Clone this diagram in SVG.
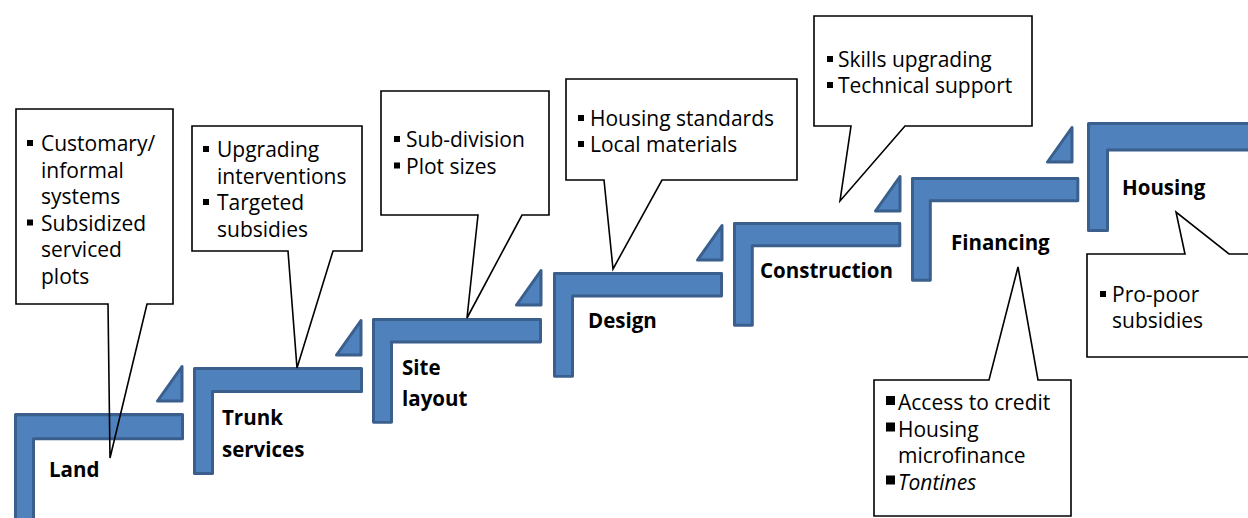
<svg xmlns="http://www.w3.org/2000/svg" xmlns:xlink="http://www.w3.org/1999/xlink" width="1248" height="518" viewBox="0 0 1248 518">
  <style>
    .step { fill: #4F81BD; stroke: #3A5F8C; stroke-width: 3; stroke-linejoin: round; }
    .call { fill: none; stroke: #000; stroke-width: 1.6; stroke-linejoin: miter; }
    .txt { font-family: "Open Sans", "Liberation Sans", sans-serif; font-size: 21px; fill: #000; }
    .lbl { font-family: "Open Sans", "Liberation Sans", sans-serif; font-size: 20.5px; font-weight: bold; fill: #000; }
    .it { font-style: italic; }
  </style>
  <defs>
    <!-- L-shaped stair step: top bar plus left riser -->
    <path id="L" d="M1.5,1.5 H168.5 V24.5 H19.5 V106.5 H1.5 Z"/>
    <!-- small right triangle leading to the next step -->
    <path id="tri" d="M26,1.5 V36 H1.5 Z"/>
    <rect id="b" width="6" height="6"/>
    <rect id="bb" width="9" height="9"/>
  </defs>
  <rect width="1248" height="518" fill="#fff"/>

  <g id="steps">
    <g id="step-land"><use xlink:href="#L" class="step" transform="translate(14,413) scale(1,1.05)"/></g>
    <use xlink:href="#tri" class="step" transform="translate(156,365)"/>
    <g id="step-trunk"><use xlink:href="#L" class="step" transform="translate(193,367)"/></g>
    <use xlink:href="#tri" class="step" transform="translate(335,319)"/>
    <g id="step-site"><use xlink:href="#L" class="step" transform="translate(372,318) scale(1,0.98)"/></g>
    <use xlink:href="#tri" class="step" transform="translate(515,269)"/>
    <g id="step-design"><use xlink:href="#L" class="step" transform="translate(553,272) scale(1,0.98)"/></g>
    <use xlink:href="#tri" class="step" transform="translate(696,224)"/>
    <g id="step-construction"><use xlink:href="#L" class="step" transform="translate(733,222) scale(0.99,0.97)"/></g>
    <use xlink:href="#tri" class="step" transform="translate(874,175)"/>
    <g id="step-financing"><use xlink:href="#L" class="step" transform="translate(911,177) scale(0.99,0.97)"/></g>
    <use xlink:href="#tri" class="step" transform="translate(1046,126)"/>
    <g id="step-housing"><path class="step" d="M1088.5,123.5 H1252 V150 H1107.5 V230.5 H1088.5 Z"/></g>
  </g>

  <g id="labels">
    <text class="lbl" x="49" y="477">Land</text>
    <text class="lbl" x="222" y="425">Trunk</text>
    <text class="lbl" x="222" y="457">services</text>
    <text class="lbl" x="402" y="375">Site</text>
    <text class="lbl" x="402" y="406">layout</text>
    <text class="lbl" x="588" y="328">Design</text>
    <text class="lbl" x="760" y="278">Construction</text>
    <text class="lbl" x="951" y="250">Financing</text>
    <text class="lbl" x="1122" y="195">Housing</text>
  </g>

  <g id="callouts">
    <g id="note-land">
      <path class="call" d="M16,109 H173 V304 H147 L110,458 L108,304 H16 Z"/>
      <use xlink:href="#b" x="27" y="140"/>
      <use xlink:href="#b" x="27" y="219.5"/>
      <text class="txt" x="41" y="151">Customary/</text>
      <text class="txt" x="41" y="177.5">informal</text>
      <text class="txt" x="41" y="204">systems</text>
      <text class="txt" x="41" y="230.5">Subsidized</text>
      <text class="txt" x="41" y="257">serviced</text>
      <text class="txt" x="41" y="283.5">plots</text>
    </g>
    <g id="note-trunk">
      <path class="call" d="M192,126 H362 V251 H333 L297,368 L288,251 H192 Z"/>
      <use xlink:href="#b" x="203" y="146"/>
      <use xlink:href="#b" x="203" y="199"/>
      <text class="txt" x="217" y="157">Upgrading</text>
      <text class="txt" x="217" y="183.5">interventions</text>
      <text class="txt" x="217" y="210">Targeted</text>
      <text class="txt" x="217" y="236.5">subsidies</text>
    </g>
    <g id="note-site">
      <path class="call" d="M381,91 H549 V215 H522 L467,318 L478,215 H381 Z"/>
      <use xlink:href="#b" x="394" y="136"/>
      <use xlink:href="#b" x="394" y="162.5"/>
      <text class="txt" x="406" y="147">Sub-division</text>
      <text class="txt" x="406" y="173.5">Plot sizes</text>
    </g>
    <g id="note-design">
      <path class="call" d="M566,79 H797 V180 H662 L613,269 L604,180 H566 Z"/>
      <use xlink:href="#b" x="578" y="115"/>
      <use xlink:href="#b" x="578" y="141"/>
      <text class="txt" x="590" y="126">Housing standards</text>
      <text class="txt" x="590" y="152">Local materials</text>
    </g>
    <g id="note-construction">
      <path class="call" d="M814,16 H1032 V126 H905 L840,201 L851,126 H814 Z"/>
      <use xlink:href="#b" x="827" y="56"/>
      <use xlink:href="#b" x="827" y="82"/>
      <text class="txt" x="838" y="67">Skills upgrading</text>
      <text class="txt" x="838" y="93">Technical support</text>
    </g>
    <g id="note-financing">
      <path class="call" d="M874,380 H989 L1018,267 L1038,380 H1071 V516 H874 Z"/>
      <use xlink:href="#bb" x="886" y="396"/>
      <use xlink:href="#bb" x="886" y="422.5"/>
      <use xlink:href="#bb" x="886" y="475.5"/>
      <text class="txt" x="898" y="410">Access to credit</text>
      <text class="txt" x="898" y="436.5">Housing</text>
      <text class="txt" x="898" y="463">microfinance</text>
      <text class="txt it" x="898" y="489.5">Tontines</text>
    </g>
    <g id="note-housing">
      <path class="call" d="M1252,254 H1229 L1176,212 L1185,254 H1087 V357 H1252"/>
      <use xlink:href="#b" x="1100" y="291"/>
      <text class="txt" x="1112" y="302">Pro-poor</text>
      <text class="txt" x="1112" y="328">subsidies</text>
    </g>
  </g>
</svg>
